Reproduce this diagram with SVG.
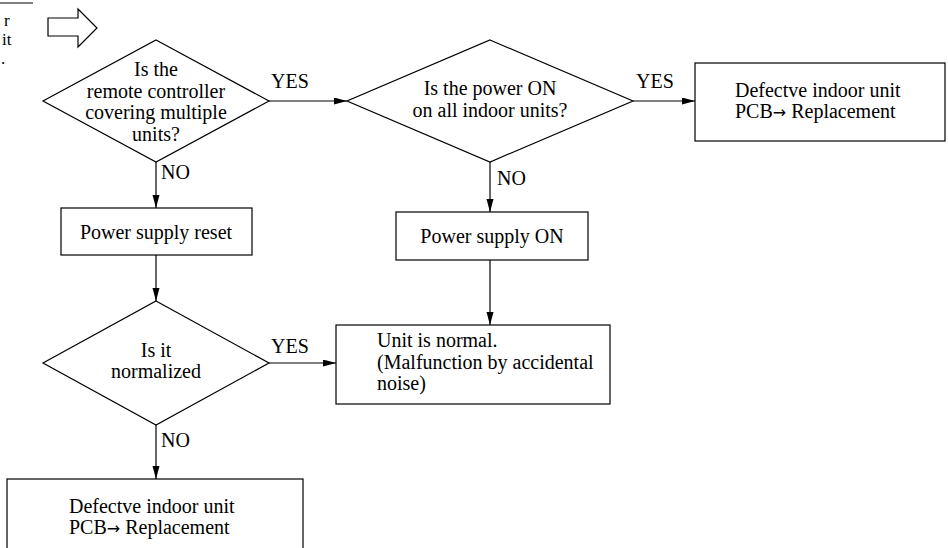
<svg xmlns="http://www.w3.org/2000/svg" width="948" height="548" viewBox="0 0 948 548">
<defs>
<marker id="ah" markerWidth="13" markerHeight="8" refX="13" refY="3.5" orient="auto" markerUnits="userSpaceOnUse">
<path d="M0,0 L13,3.5 L0,7 z" fill="#000"/>
</marker>
<style>
.s{fill:#fff;stroke:#000;stroke-width:1.2}
.c{fill:none;stroke:#000;stroke-width:1.2;marker-end:url(#ah)}
text{font-family:"Liberation Serif","Times New Roman",serif;font-size:20px;fill:#000}
.m{text-anchor:middle}
.a{font-family:"DejaVu Sans",sans-serif;font-size:16px}
.f{font-size:17px}
</style>
</defs>
<rect width="948" height="548" fill="#fff"/>
<g id="fragment">
<line x1="0" y1="3" x2="33" y2="3" stroke="#000" stroke-width="1.2"/>
<text class="f" x="4" y="26">r</text>
<text class="f" x="2" y="45">it</text>
<text class="f" x="1" y="64">.</text>
<path class="s" d="M48,18 L78,18 L78,9 L97,28 L78,47 L78,36 L48,36 Z"/>
</g>
<g id="connectors">
<path class="c" d="M269,101 H347"/>
<path class="c" d="M633,101 H695"/>
<path class="c" d="M156,162 V208"/>
<path class="c" d="M490,162 V212"/>
<path class="c" d="M156,255 V301"/>
<path class="c" d="M490,260 V325"/>
<path class="c" d="M269,363 H336"/>
<path class="c" d="M156,425 V479"/>
<text x="271" y="88">YES</text>
<text x="636" y="88">YES</text>
<text x="161" y="179">NO</text>
<text x="497" y="185">NO</text>
<text x="271" y="353">YES</text>
<text x="161" y="447">NO</text>
</g>
<g id="q1">
<path class="s" d="M156,40 L269,101 L156,162 L43,101 Z"/>
<text class="m" x="156" y="76">Is the</text>
<text class="m" x="156" y="98">remote controller</text>
<text class="m" x="156" y="119">covering multiple</text>
<text class="m" x="156" y="141">units?</text>
</g>
<g id="q2">
<path class="s" d="M490,40 L633,101 L490,162 L347,101 Z"/>
<text class="m" x="490" y="95">Is the power ON</text>
<text class="m" x="490" y="117">on all indoor units?</text>
</g>
<g id="defect1">
<rect class="s" x="695" y="63" width="250" height="78"/>
<text x="735" y="97">Defectve indoor unit</text>
<text x="735" y="118">PCB<tspan class="a">→</tspan> Replacement</text>
</g>
<g id="reset">
<rect class="s" x="61" y="208" width="191" height="47"/>
<text class="m" x="156" y="239">Power supply reset</text>
</g>
<g id="poweron">
<rect class="s" x="396" y="212" width="192" height="48"/>
<text class="m" x="492" y="243">Power supply ON</text>
</g>
<g id="q3">
<path class="s" d="M156,301 L269,363 L156,425 L43,363 Z"/>
<text class="m" x="156" y="357">Is it</text>
<text class="m" x="156" y="378">normalized</text>
</g>
<g id="normal">
<rect class="s" x="336" y="325" width="274" height="79"/>
<text x="377" y="347">Unit is normal.</text>
<text x="377" y="369">(Malfunction by accidental</text>
<text x="377" y="390">noise)</text>
</g>
<g id="defect2">
<rect class="s" x="7" y="479" width="296" height="75"/>
<text x="69" y="513">Defectve indoor unit</text>
<text x="69" y="534">PCB<tspan class="a">→</tspan> Replacement</text>
</g>
</svg>
